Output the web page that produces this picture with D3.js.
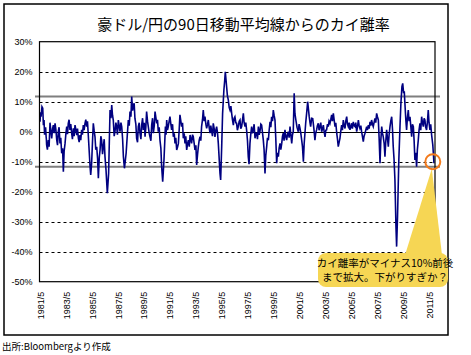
<!DOCTYPE html>
<html>
<head>
<meta charset="utf-8">
<script src="https://cdn.jsdelivr.net/npm/d3@7"></script>
<style>
  html, body { margin: 0; padding: 0; background: #fff; }
  svg { display: block; }
</style>
</head>
<body>
<svg id="chart" width="471" height="355"></svg>
<script>
// ---- data: [decimal year, deviation from 90-day MA in %] ----
const deviation = [
[1981.33,3.3],[1981.37,6.5],[1981.41,5.0],[1981.48,8.3],[1981.54,7.8],[1981.59,2.2],[1981.64,3.9],[1981.68,-1.0],
[1981.72,0.0],[1981.76,1.5],[1981.80,-1.6],[1981.82,-2.5],[1981.84,-4.4],[1981.90,-6.0],[1981.97,-2.8],[1982.03,-5.0],
[1982.10,3.0],[1982.16,0.5],[1982.23,-2.2],[1982.30,1.0],[1982.36,2.2],[1982.42,-0.5],[1982.49,2.8],[1982.55,0.8],
[1982.62,-2.8],[1982.68,-4.5],[1982.74,0.0],[1982.80,1.5],[1982.87,-3.9],[1982.93,-2.0],[1983.00,-7.2],[1983.07,-5.5],
[1983.13,-13.3],[1983.19,-6.5],[1983.26,-3.9],[1983.33,-0.5],[1983.39,1.7],[1983.45,-0.8],[1983.51,2.8],[1983.57,4.0],
[1983.64,0.6],[1983.70,2.5],[1983.77,-0.5],[1983.83,-2.5],[1983.90,1.1],[1983.96,-1.5],[1984.03,2.2],[1984.10,0.5],
[1984.16,-1.1],[1984.22,1.0],[1984.29,-2.2],[1984.35,-3.5],[1984.41,-1.1],[1984.47,-2.8],[1984.54,0.6],[1984.60,-1.0],
[1984.67,2.2],[1984.73,0.5],[1984.80,2.8],[1984.86,4.0],[1984.93,1.7],[1984.99,3.5],[1985.06,-1.7],[1985.19,-11.7],
[1985.24,-14.4],[1985.31,-10.5],[1985.38,-3.0],[1985.44,2.8],[1985.50,0.5],[1985.57,-1.7],[1985.63,-6.0],[1985.70,-5.0],
[1985.77,-9.0],[1985.83,-15.5],[1985.90,-8.5],[1985.96,-6.1],[1986.02,-1.5],[1986.08,-2.8],[1986.15,-7.5],[1986.21,-5.0],
[1986.28,-2.5],[1986.34,-8.3],[1986.42,-12.8],[1986.52,-20.5],[1986.62,-13.9],[1986.73,7.2],[1986.80,4.5],[1986.86,8.9],
[1986.92,5.5],[1986.98,3.9],[1987.05,-1.5],[1987.11,0.0],[1987.18,3.0],[1987.24,1.7],[1987.30,-1.0],[1987.37,3.9],
[1987.44,1.8],[1987.50,0.0],[1987.57,3.0],[1987.63,1.7],[1987.70,-2.5],[1987.76,-8.3],[1987.84,-12.2],[1987.97,-7.2],
[1988.07,-0.5],[1988.14,3.9],[1988.21,2.0],[1988.27,6.7],[1988.34,5.0],[1988.40,11.7],[1988.47,7.0],[1988.53,8.9],
[1988.59,9.5],[1988.65,4.4],[1988.72,2.5],[1988.78,-2.2],[1988.85,-3.5],[1988.91,1.7],[1988.98,3.0],[1989.04,-0.5],
[1989.11,-2.5],[1989.17,2.2],[1989.24,4.5],[1989.30,0.6],[1989.37,3.0],[1989.43,-1.7],[1989.49,1.5],[1989.55,6.7],
[1989.62,3.5],[1989.68,1.7],[1989.75,-0.5],[1989.81,-1.7],[1989.88,-3.0],[1989.94,2.2],[1990.01,4.5],[1990.07,-0.5],
[1990.14,2.0],[1990.20,6.7],[1990.27,4.5],[1990.33,2.8],[1990.39,4.0],[1990.45,0.0],[1990.52,1.5],[1990.58,-2.8],
[1990.65,-5.5],[1990.71,-11.7],[1990.79,-16.7],[1990.89,-9.4],[1991.00,1.7],[1991.05,-1.0],[1991.10,3.9],[1991.16,0.5],
[1991.22,1.7],[1991.29,3.5],[1991.35,5.0],[1991.42,2.5],[1991.48,0.6],[1991.55,2.5],[1991.61,-1.7],[1991.68,-0.5],
[1991.74,-3.9],[1991.80,-2.0],[1991.87,-6.1],[1991.94,-5.0],[1992.00,-3.9],[1992.06,0.5],[1992.12,5.6],[1992.19,3.5],
[1992.25,1.7],[1992.32,3.0],[1992.38,-2.2],[1992.45,-0.5],[1992.51,-3.9],[1992.57,-1.5],[1992.64,-6.1],[1992.71,-4.0],
[1992.77,-2.8],[1992.84,-5.0],[1992.90,-1.1],[1992.96,-2.5],[1993.02,-3.9],[1993.09,-1.0],[1993.15,-1.7],[1993.22,-4.0],
[1993.28,-6.1],[1993.35,-4.5],[1993.41,-11.1],[1993.48,-7.5],[1993.54,-5.0],[1993.60,-3.0],[1993.67,-1.7],[1993.73,-3.0],
[1993.79,1.7],[1993.86,4.0],[1993.92,7.2],[1993.99,3.5],[1994.05,5.0],[1994.12,2.5],[1994.18,1.1],[1994.25,2.5],
[1994.31,3.9],[1994.37,1.5],[1994.44,-0.5],[1994.50,2.0],[1994.57,0.0],[1994.63,-1.5],[1994.69,2.8],[1994.76,1.0],
[1994.82,-1.7],[1994.89,0.5],[1994.95,1.7],[1995.02,-0.5],[1995.08,-3.9],[1995.21,-13.9],[1995.26,-16.1],[1995.34,-5.0],
[1995.41,6.1],[1995.51,13.9],[1995.57,17.0],[1995.62,20.0],[1995.67,17.5],[1995.72,15.0],[1995.78,12.0],[1995.85,10.6],
[1995.92,8.0],[1995.98,7.2],[1996.05,8.5],[1996.11,6.1],[1996.17,4.0],[1996.24,2.2],[1996.30,4.5],[1996.36,5.0],
[1996.43,3.0],[1996.49,2.8],[1996.55,0.5],[1996.62,1.7],[1996.69,3.5],[1996.75,3.9],[1996.81,1.0],[1996.88,1.7],
[1996.95,4.0],[1997.01,6.1],[1997.07,3.0],[1997.14,1.7],[1997.20,3.0],[1997.26,0.6],[1997.33,-3.0],[1997.39,-8.3],
[1997.45,-10.8],[1997.52,-3.9],[1997.58,-1.0],[1997.65,1.7],[1997.71,-0.5],[1997.78,0.6],[1997.84,2.5],[1997.91,-2.2],
[1997.97,-0.5],[1998.04,-0.5],[1998.10,-2.5],[1998.17,1.7],[1998.23,-1.0],[1998.29,0.0],[1998.36,2.5],[1998.42,2.2],
[1998.49,-0.5],[1998.55,-2.8],[1998.61,-6.0],[1998.68,-13.9],[1998.74,-8.0],[1998.81,-5.0],[1998.87,-2.0],[1998.94,-2.8],
[1999.00,0.5],[1999.07,3.3],[1999.13,1.5],[1999.19,5.0],[1999.26,3.5],[1999.32,7.2],[1999.38,5.5],[1999.45,3.9],
[1999.51,-2.0],[1999.58,-10.5],[1999.64,-7.0],[1999.71,-8.3],[1999.77,-5.5],[1999.84,-3.9],[1999.90,-6.0],[1999.97,-3.9],
[2000.03,-1.5],[2000.09,-0.5],[2000.15,-3.0],[2000.22,0.6],[2000.28,-1.5],[2000.35,-2.8],[2000.41,-1.0],[2000.48,0.0],
[2000.54,-2.0],[2000.61,1.7],[2000.67,-1.0],[2000.74,-3.9],[2000.80,-1.0],[2000.86,0.0],[2000.93,12.8],[2000.99,6.0],
[2001.06,3.9],[2001.15,1.5],[2001.25,0.0],[2001.31,2.5],[2001.38,1.1],[2001.44,-0.5],[2001.51,-2.8],[2001.57,-5.0],
[2001.64,-10.0],[2001.70,-4.0],[2001.76,-0.5],[2001.82,3.0],[2001.89,6.1],[2001.97,10.0],[2002.09,5.0],[2002.15,3.0],
[2002.20,1.7],[2002.28,4.5],[2002.36,4.4],[2002.45,1.0],[2002.53,-2.8],[2002.59,-0.5],[2002.66,0.6],[2002.72,2.0],
[2002.79,2.8],[2002.85,0.5],[2002.92,1.7],[2002.98,3.0],[2003.05,0.0],[2003.11,1.0],[2003.18,2.2],[2003.24,0.0],
[2003.31,-1.7],[2003.37,0.5],[2003.43,0.6],[2003.50,2.5],[2003.56,1.7],[2003.62,3.5],[2003.69,2.8],[2003.75,4.0],
[2003.82,5.6],[2003.88,3.5],[2003.95,6.1],[2004.01,4.0],[2004.08,1.7],[2004.14,3.0],[2004.21,-0.5],[2004.27,-2.5],
[2004.33,-5.0],[2004.40,-3.5],[2004.46,-2.2],[2004.52,0.0],[2004.59,2.2],[2004.65,0.5],[2004.72,3.9],[2004.78,2.0],
[2004.85,1.1],[2004.91,3.5],[2004.98,5.0],[2005.04,2.5],[2005.10,1.7],[2005.17,3.0],[2005.23,0.6],[2005.29,1.5],
[2005.36,2.8],[2005.42,1.0],[2005.49,3.3],[2005.55,2.0],[2005.62,1.7],[2005.68,3.0],[2005.75,0.0],[2005.81,1.5],
[2005.88,3.9],[2005.94,2.0],[2006.00,1.1],[2006.07,2.0],[2006.13,0.0],[2006.19,-1.5],[2006.26,-3.3],[2006.32,-1.5],
[2006.39,-0.5],[2006.45,0.5],[2006.52,1.7],[2006.58,0.5],[2006.65,2.2],[2006.71,1.0],[2006.78,3.3],[2006.84,2.0],
[2006.90,3.9],[2006.97,2.5],[2007.03,1.7],[2007.09,3.0],[2007.16,4.4],[2007.22,3.0],[2007.29,6.1],[2007.35,5.0],
[2007.42,3.9],[2007.48,-2.0],[2007.55,-10.5],[2007.61,-3.0],[2007.68,1.7],[2007.74,-0.5],[2007.80,-1.7],[2007.87,-4.0],
[2007.93,-8.3],[2007.99,-3.5],[2008.06,0.6],[2008.12,-2.0],[2008.19,-5.0],[2008.25,-1.0],[2008.32,1.7],[2008.38,3.5],
[2008.45,5.0],[2008.51,1.0],[2008.57,-5.0],[2008.63,-9.0],[2008.70,-16.1],[2008.78,-31.7],[2008.83,-38.3],[2008.90,-28.3],
[2009.00,-9.4],[2009.09,1.7],[2009.16,9.4],[2009.24,15.0],[2009.30,16.1],[2009.37,12.8],[2009.42,13.5],[2009.47,9.4],
[2009.54,4.0],[2009.60,0.6],[2009.66,4.5],[2009.73,7.2],[2009.79,3.5],[2009.86,5.0],[2009.92,2.0],[2009.99,-1.7],
[2010.05,2.5],[2010.12,1.7],[2010.18,-3.0],[2010.24,-9.4],[2010.30,-7.0],[2010.37,-11.7],[2010.43,-6.0],[2010.50,-2.8],
[2010.56,0.5],[2010.63,2.8],[2010.69,0.5],[2010.76,5.0],[2010.82,3.0],[2010.89,1.7],[2010.95,4.5],[2011.01,3.9],
[2011.07,1.5],[2011.14,0.6],[2011.21,3.5],[2011.27,7.2],[2011.33,3.0],[2011.40,0.6],[2011.46,2.5],[2011.53,-1.1],
[2011.62,-4.4],[2011.66,-7.0],[2011.71,-10.5]
];
const xTickLabels = ["1981/5","1983/5","1985/5","1987/5","1989/5","1991/5","1993/5","1995/5",
                     "1997/5","1999/5","2001/5","2003/5","2005/5","2007/5","2009/5","2011/5"];
const yTicks = [30,20,10,0,-10,-20,-30,-40,-50];
const bandLevels = [11.7, -11.7];
const title = "豪ドル/円の90日移動平均線からのカイ離率";
const calloutLines = ["カイ離率がマイナス10%前後", "まで拡大。下がりすぎか？"];
const sourceText = "出所:Bloombergより作成";

// ---- layout ----
const svg = d3.select("#chart");
const plot = {left: 39.5, right: 435, top: 41.7, bottom: 281.7};

const x = d3.scaleLinear().domain([1981.29, 2011.79]).range([plot.left, plot.right]);
const y = d3.scaleLinear().domain([-50, 30]).range([plot.bottom, plot.top]);

// outer border
svg.append("rect").attr("x", 4).attr("y", 4).attr("width", 444).attr("height", 331)
  .attr("fill", "#fff").attr("stroke", "#000").attr("stroke-width", 1.5);

// title
svg.append("text").attr("x", 243.5).attr("y", 29.5).attr("text-anchor", "middle")
  .attr("font-family", "'Noto Sans CJK JP', sans-serif").attr("font-size", 15)
  .attr("fill", "#000").text(title);

// dashed gridlines
const grid = svg.append("g");
yTicks.filter(v => v !== 0 && v !== 30 && v !== -50).forEach(v => {
  grid.append("line").attr("x1", plot.left).attr("x2", plot.right)
    .attr("y1", Math.round(y(v)) + 0.5).attr("y2", Math.round(y(v)) + 0.5)
    .attr("stroke", "#000").attr("stroke-width", 1).attr("stroke-dasharray", "3,3");
});
// zero line
grid.append("line").attr("x1", plot.left).attr("x2", plot.right)
  .attr("y1", Math.round(y(0)) + 0.5).attr("y2", Math.round(y(0)) + 0.5)
  .attr("stroke", "#000").attr("stroke-width", 1);

// grey band lines
bandLevels.forEach(v => {
  svg.append("line").attr("x1", 35).attr("x2", 440)
    .attr("y1", y(v)).attr("y2", y(v))
    .attr("stroke", "#7f7f7f").attr("stroke-width", 2);
});

// series
svg.append("path").datum(deviation)
  .attr("fill", "none").attr("stroke", "#000080").attr("stroke-width", 1.6)
  .attr("stroke-linejoin", "miter")
  .attr("d", d3.line().x(d => x(d[0])).y(d => y(d[1])));

// plot frame
svg.append("rect").attr("x", plot.left).attr("y", plot.top)
  .attr("width", plot.right - plot.left).attr("height", plot.bottom - plot.top)
  .attr("fill", "none").attr("stroke", "#000").attr("stroke-width", 1.2);

// y axis
const yAxis = svg.append("g").attr("transform", `translate(${plot.left},0)`)
  .call(d3.axisLeft(y).tickValues(yTicks).tickSize(0).tickPadding(7).tickFormat(d => d + "%"));
yAxis.select(".domain").remove();
yAxis.selectAll("text").attr("font-family", "Arial, 'Liberation Sans', sans-serif")
  .attr("font-size", 9).attr("fill", "#000");

// x axis
const xTickVals = xTickLabels.map(s => { const [yy, mm] = s.split("/"); return +yy + (+mm - 1) / 12; });
const xAxis = svg.append("g").attr("transform", `translate(0,${plot.bottom})`)
  .call(d3.axisBottom(x).tickValues(xTickVals).tickSize(0)
    .tickFormat((d, i) => xTickLabels[i]));
xAxis.select(".domain").remove();
xAxis.selectAll("text")
  .attr("font-family", "Arial, 'Liberation Sans', sans-serif").attr("font-size", 9).attr("fill", "#000")
  .attr("text-anchor", "end")
  .attr("transform", "rotate(-90)")
  .attr("x", -10).attr("y", 0).attr("dy", "0.35em");

// callout pointer + box
const cx = x(2011.62), cy = y(-10);
svg.append("path")
  .attr("d", `M405,255 L${cx - 1},${cy + 7} L442,255 Z`)
  .attr("fill", "#f6d654");
svg.append("rect").attr("x", 318).attr("y", 253).attr("width", 130).attr("height", 34)
  .attr("rx", 8).attr("ry", 8).attr("fill", "#f6d654");
calloutLines.forEach((t, i) => {
  svg.append("text").attr("x", 385).attr("y", 267 + i * 13.5).attr("text-anchor", "middle")
    .attr("font-family", "'Noto Sans CJK JP', sans-serif").attr("font-size", 10.5)
    .attr("fill", "#000").text(t);
});
// orange circle
svg.append("circle").attr("cx", cx).attr("cy", cy).attr("r", 7.5)
  .attr("fill", "none").attr("stroke", "#f37b1d").attr("stroke-width", 2);

// source
svg.append("text").attr("x", 2).attr("y", 350)
  .attr("font-family", "'Noto Sans CJK JP', sans-serif").attr("font-size", 9.5)
  .attr("fill", "#000").text(sourceText);
</script>
</body>
</html>
